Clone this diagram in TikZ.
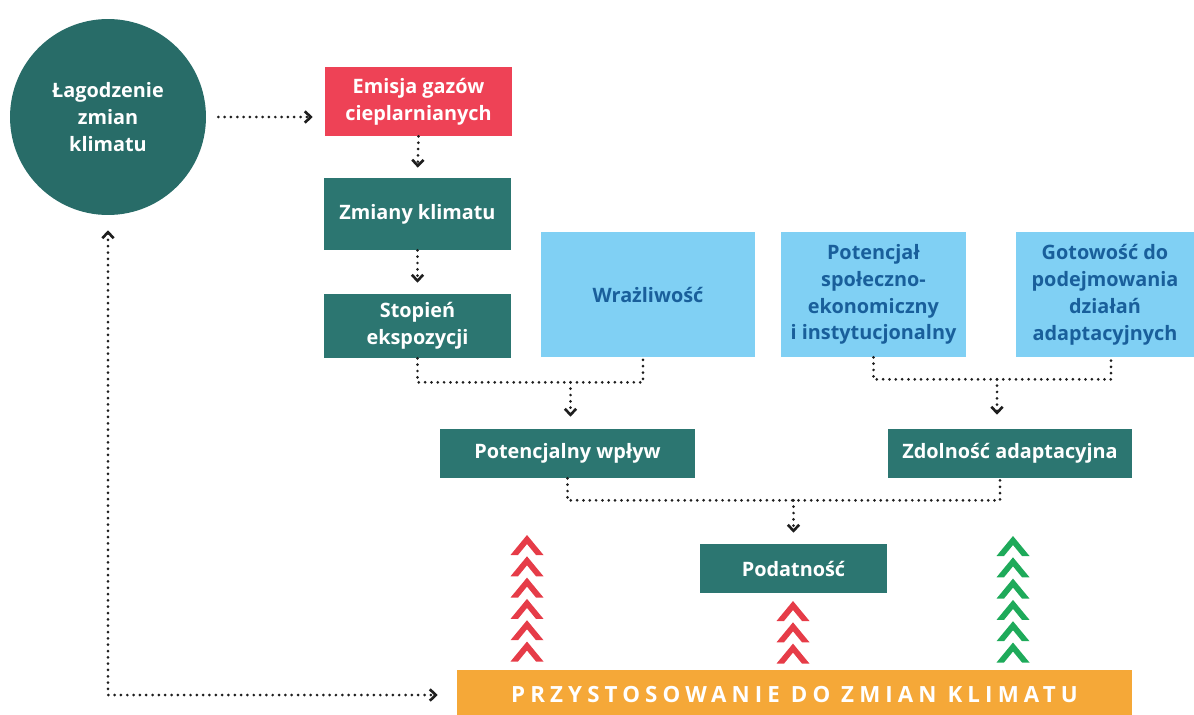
\documentclass[tikz,border=0pt]{standalone}
\usepackage{fontspec}
\setmainfont{Open Sans}
\usetikzlibrary{arrows.meta,positioning,calc}
\definecolor{klimteal}{RGB}{44,118,113}
\definecolor{klimdeep}{RGB}{40,108,104}
\definecolor{klimred}{RGB}{238,66,86}
\definecolor{klimblue}{RGB}{128,208,244}
\definecolor{klimnavy}{RGB}{25,95,155}
\definecolor{klimorange}{RGB}{245,168,56}
\definecolor{chevred}{RGB}{230,60,72}
\definecolor{chevgreen}{RGB}{30,170,90}
\definecolor{dotgray}{RGB}{30,30,30}

\begin{document}
\begin{tikzpicture}[
  x=0.02cm, y=-0.02cm,
  every node/.style={font=\bfseries\fontsize{11.3}{15.3}\selectfont, text=white, align=center, inner sep=0pt},
  box/.style={fill=klimteal, minimum width=3.74cm},
  factor/.style={fill=klimblue, text=klimnavy, minimum height=2.5cm},
  flow/.style={draw=dotgray, line width=1.7pt, dash pattern=on 0pt off 3.6pt, line cap=round},
  barb/.tip={Straight Barb[length=3.4pt, width=6.5pt, line width=1.5pt]},
  tip/.style={flow, -{barb}}
]
\useasboundingbox (0,0) rectangle (1194,714);

% mitigation side
\node[circle, fill=klimdeep, minimum size=3.92cm] (circ) at (108,117) {Łagodzenie\\zmian\\klimatu};

% exposure chain
\node[box, fill=klimred, minimum height=1.38cm] (emisja) at (418.5,101.5) {Emisja gazów\\cieplarnianych};
\node[box, minimum height=1.44cm] (zmiany) at (417.5,214) {Zmiany klimatu};
\node[box, minimum height=1.28cm] (stopien) at (417.5,326) {Stopień\\ekspozycji};

% sensitivity and capacity factors
\node[factor, minimum width=4.28cm] (wraz) at (648,294.5) {Wrażliwość};
\node[factor, minimum width=3.7cm] (potenc) at (873.5,294.5) {Potencjał\\społeczno-\\ekonomiczny\\i instytucjonalny};
\node[factor, minimum width=3.56cm] (gotow) at (1105,294.5) {Gotowość do\\podejmowania\\działań\\adaptacyjnych};

\node[box, minimum width=5.1cm, minimum height=0.98cm] (wplyw) at (567.5,453.5) {Potencjalny wpływ};
\node[box, minimum width=4.88cm, minimum height=0.98cm] (zdoln) at (1010,453.5) {Zdolność adaptacyjna};
\node[box, minimum width=3.74cm, minimum height=0.98cm] (podat) at (793.5,568.5) {Podatność};

% adaptation bar
\node[fill=klimorange, minimum width=13.5cm, minimum height=1.0cm,
      font=\bfseries\fontsize{12.7}{15}\selectfont\addfontfeature{LetterSpace=23}] (bar) at (794.5,695)
  {PRZYSTOSOWANIE DO ZMIAN KLIMATU};

% dotted links
\draw[tip, shorten <=0.24cm, shorten >=0.24cm] (circ.east) -- (circ.east -| emisja.west);
\draw[tip, shorten >=0.2cm] (emisja.south) -- (zmiany.north);
\draw[tip, shorten >=0.22cm] (zmiany.south) -- (stopien.north);

\draw[flow] (stopien.south) -- ++(0,24) coordinate (j1) -| ($(wraz.south)+(-5,0)$);
\draw[tip, shorten >=0.24cm] ($(j1 -| wplyw.north)+(3,0)$) -- ($(wplyw.north)+(3,0)$);

\draw[flow] (potenc.south) -- ++(0,22) coordinate (j2) -| ($(gotow.south)+(6,0)$);
\draw[tip, shorten >=0.28cm] ($(j2 -| zdoln.north)+(-13,0)$) -- ($(zdoln.north)+(-13,0)$);

\draw[flow] (wplyw.south) -- ++(0,22) coordinate (j3) -| ($(zdoln.south)+(-10,0)$);
\draw[tip, shorten >=0.22cm] (j3 -| podat.north) -- (podat.north);

\draw[flow, {barb}-{barb}, shorten <=0.3cm, shorten >=0.38cm] (circ.south) |- (bar.west);

% upward chevrons
\foreach \k in {0,...,5}
  \fill[chevred, shift={(527,{535+21.3*\k})}] (-16.5,20) -- (0,0) -- (16.5,20) -- (9,20) -- (0,9) -- (-9,20) -- cycle;
\foreach \k in {0,...,2}
  \fill[chevred, shift={(793,{601+21.3*\k})}] (-16.5,20) -- (0,0) -- (16.5,20) -- (9,20) -- (0,9) -- (-9,20) -- cycle;
\foreach \k in {0,...,5}
  \fill[chevgreen, shift={(1013,{536+21.3*\k})}] (-16.5,20) -- (0,0) -- (16.5,20) -- (9,20) -- (0,9) -- (-9,20) -- cycle;
\end{tikzpicture}
\end{document}
